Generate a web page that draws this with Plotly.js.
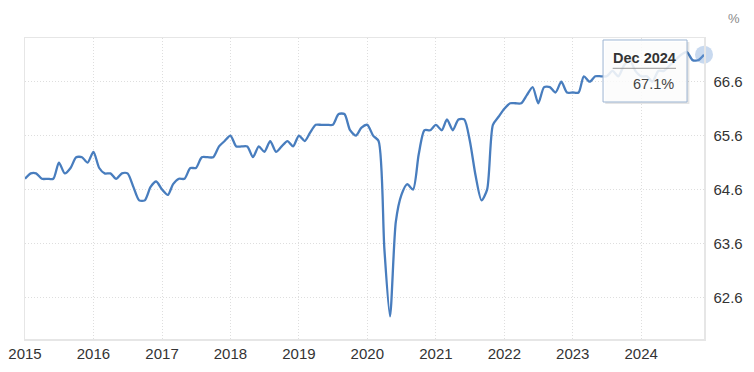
<!DOCTYPE html>
<html>
<head>
<meta charset="utf-8">
<script src="https://cdn.plot.ly/plotly-3.0.1.min.js"></script>
<style>
  html, body { margin: 0; padding: 0; background: #ffffff; }
  #chart { width: 754px; height: 372px; }
</style>
</head>
<body>
<div id="chart"></div>
<script>
// Labour force participation rate, monthly, %
const years = [2015, 2016, 2017, 2018, 2019, 2020, 2021, 2022, 2023, 2024];
const rate2015 = [64.8, 64.9, 64.9, 64.8, 64.8, 64.8, 65.1, 64.9, 65.0, 65.2, 65.2, 65.1];
const rate2016 = [65.3, 65.0, 64.9, 64.9, 64.8, 64.9, 64.9, 64.65, 64.4, 64.4, 64.65, 64.75];
const rate2017 = [64.6, 64.5, 64.7, 64.8, 64.8, 65.0, 65.0, 65.2, 65.2, 65.2, 65.4, 65.5];
const rate2018 = [65.6, 65.4, 65.4, 65.4, 65.2, 65.4, 65.3, 65.5, 65.3, 65.4, 65.5, 65.4];
const rate2019 = [65.6, 65.5, 65.65, 65.8, 65.8, 65.8, 65.8, 66.0, 66.0, 65.7, 65.6, 65.75];
const rate2020 = [65.8, 65.6, 65.5, 63.5, 62.25, 64.0, 64.5, 64.7, 64.6, 65.25, 65.7, 65.7];
const rate2021 = [65.8, 65.7, 65.9, 65.7, 65.9, 65.9, 65.5, 64.85, 64.4, 64.6, 65.8, 65.95];
const rate2022 = [66.1, 66.2, 66.2, 66.2, 66.35, 66.5, 66.2, 66.5, 66.5, 66.4, 66.6, 66.4];
const rate2023 = [66.4, 66.4, 66.7, 66.6, 66.7, 66.7, 66.7, 66.8, 66.7, 66.9, 67.0, 66.8];
const rate2024 = [66.7, 66.7, 66.6, 66.8, 66.8, 66.9, 67.0, 67.1, 67.15, 67.0, 67.0, 67.1];
const yTicks = [62.6, 63.6, 64.6, 65.6, 66.6];
const monthNames = ['Jan','Feb','Mar','Apr','May','Jun','Jul','Aug','Sep','Oct','Nov','Dec'];

const perYear = [rate2015, rate2016, rate2017, rate2018, rate2019, rate2020, rate2021, rate2022, rate2023, rate2024];
const dates = [];
const values = [];
perYear.forEach((arr, i) => {
  arr.forEach((v, j) => {
    dates.push(years[i] + '-' + String(j + 1).padStart(2, '0') + '-01');
    values.push(v);
  });
});
const lastIdx = values.length - 1;
const lastDate = dates[lastIdx];
const lastMonth = parseInt(lastDate.slice(5, 7), 10) - 1;
const tipTitle = monthNames[lastMonth] + ' ' + lastDate.slice(0, 4);
const tipValue = values[lastIdx].toFixed(1) + '%';

const lineTrace = {
  x: dates, y: values, type: 'scatter', mode: 'lines',
  line: { color: 'rgb(72,125,190)', width: 2.3, shape: 'spline', smoothing: 0.7 },
  hoverinfo: 'skip'
};
const pointTrace = {
  x: [lastDate], y: [values[lastIdx]], type: 'scatter', mode: 'markers',
  cliponaxis: false,
  marker: { size: 18, color: 'rgba(110,155,212,0.38)', line: { width: 0 } },
  hoverinfo: 'skip'
};

const gridColor = '#dedede';
const layout = {
  width: 754, height: 372,
  margin: { l: 25, r: 50, t: 38, b: 33 },
  paper_bgcolor: '#ffffff', plot_bgcolor: '#ffffff',
  showlegend: false,
  hovermode: false,
  font: { family: 'Liberation Sans, Arial, sans-serif', size: 15, color: '#333333' },
  xaxis: {
    type: 'date',
    range: [dates[0], lastDate],
    tickvals: years.map(y => y + '-01-01'),
    ticktext: years.map(String),
    showgrid: true, gridcolor: gridColor, griddash: '1px,2px', gridwidth: 1,
    showline: true, linecolor: '#e6e6e6', linewidth: 1.5, mirror: true,
    ticks: '', zeroline: false,
    tickfont: { size: 15, color: '#333333' },
    fixedrange: true
  },
  yaxis: {
    side: 'right',
    range: [61.83, 67.41],
    tickvals: yTicks,
    ticktext: yTicks.map(v => v.toFixed(1)),
    showgrid: true, gridcolor: gridColor, griddash: '1px,2px', gridwidth: 1,
    showline: true, linecolor: '#e6e6e6', linewidth: 1.5, mirror: true,
    ticks: '', zeroline: false,
    ticklabelstandoff: 5,
    tickfont: { size: 15, color: '#333333' },
    fixedrange: true
  },
  shapes: [
    { type: 'rect', xref: 'paper', yref: 'paper', x0: 0.8545, x1: 0.9785, y0: 0.7805, y1: 0.9868,
      fillcolor: 'rgba(0,0,0,0.10)', line: { width: 0 }, layer: 'above' },
    { type: 'rect', xref: 'paper', yref: 'paper', x0: 0.8513, x1: 0.975, y0: 0.7874, y1: 0.9934,
      fillcolor: 'rgba(255,255,255,0.86)', line: { color: '#9db5d3', width: 1 }, layer: 'above' },
    { type: 'line', xref: 'paper', yref: 'paper', x0: 0.8655, x1: 0.9588, y0: 0.8993, y1: 0.8993,
      line: { color: '#9a9a9a', width: 1 }, layer: 'above' }
  ],
  annotations: [
    { xref: 'paper', yref: 'paper', x: 0.912, y: 0.932, text: '<b>' + tipTitle + '</b>',
      showarrow: false, xanchor: 'center', yanchor: 'middle',
      font: { size: 14.5, color: '#333333' } },
    { xref: 'paper', yref: 'paper', x: 0.9588, y: 0.847, text: tipValue,
      showarrow: false, xanchor: 'right', yanchor: 'middle',
      font: { size: 14.5, color: '#444444' } },
    { xref: 'paper', yref: 'paper', x: 1.0442, y: 1.065, text: '%',
      showarrow: false, xanchor: 'center', yanchor: 'middle',
      font: { size: 13, color: '#8a8a8a' } }
  ]
};

Plotly.newPlot('chart', [lineTrace, pointTrace], layout, { displayModeBar: false, staticPlot: true });
</script>
</body>
</html>
